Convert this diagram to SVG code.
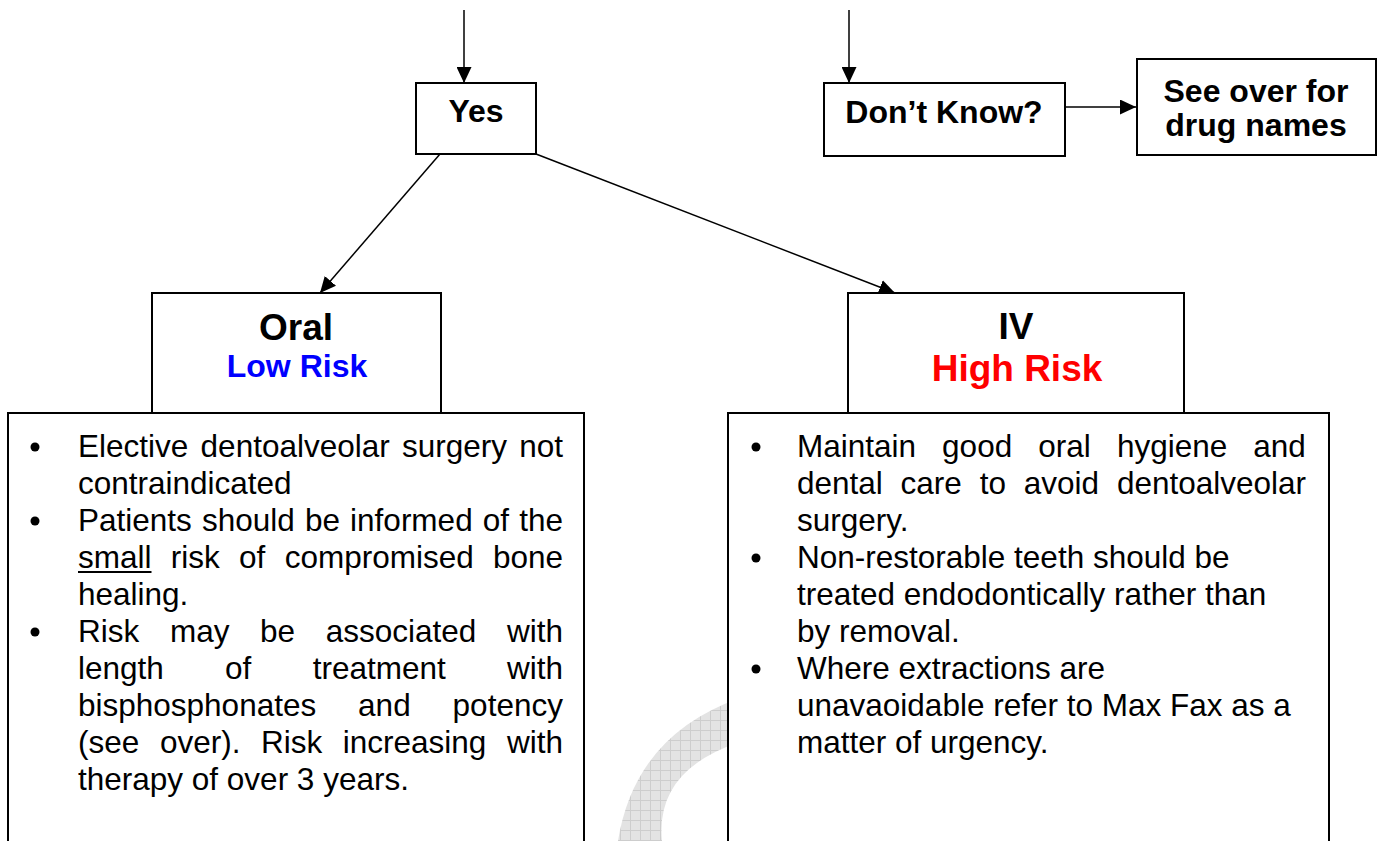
<svg xmlns="http://www.w3.org/2000/svg" width="1381" height="841" viewBox="0 0 1381 841">
<style>
.box{fill:#fff;stroke:#000;stroke-width:2}
.hd{font-family:"Liberation Sans",Arial,sans-serif;font-weight:bold;text-anchor:middle;fill:#000}
.bd{font-family:"Liberation Sans",Arial,sans-serif;font-size:31.5px;fill:#000}
.con{fill:none;stroke:#000;stroke-width:1.5;marker-end:url(#ah)}
</style>
<defs>
<marker id="ah" viewBox="0 0 16 15" refX="16" refY="7.5" markerWidth="16" markerHeight="15" markerUnits="userSpaceOnUse" orient="auto">
<path d="M0,0L16,7.5L0,15Z" fill="#000"/>
</marker>
<pattern id="wm" width="10" height="10" patternUnits="userSpaceOnUse">
<rect width="10" height="10" fill="#e3e3e3"/>
<path d="M0,0.5H10M0.5,0V10" stroke="#cdcdcd" stroke-width="1"/>
</pattern>
</defs>
<rect width="1381" height="841" fill="#fff"/>

<path id="watermark" d="M618,841 Q635,735 740,698 L740,742 Q655,770 662,841 Z" fill="url(#wm)"/>

<g id="connectors">
<line class="con" x1="464" y1="10" x2="464" y2="83"/>
<line class="con" x1="849" y1="10" x2="849" y2="83"/>
<line class="con" x1="1065" y1="107" x2="1136" y2="107"/>
<line class="con" x1="440" y1="154" x2="320" y2="293"/>
<line class="con" x1="536" y1="154" x2="895" y2="293"/>
</g>

<g id="yes">
<rect class="box" x="416" y="83" width="120" height="71"/>
<text class="hd" x="476" y="122" font-size="32">Yes</text>
</g>

<g id="dontknow">
<rect class="box" x="824" y="83" width="241" height="73"/>
<text class="hd" x="944" y="123" font-size="32">Don’t Know?</text>
</g>

<g id="seeover">
<rect class="box" x="1137" y="59" width="239" height="96"/>
<text class="hd" x="1256" y="102" font-size="32">See over for</text>
<text class="hd" x="1256" y="136" font-size="32">drug names</text>
</g>

<g id="oral">
<rect class="box" x="152" y="293" width="289" height="120"/>
<text class="hd" x="296" y="340" font-size="37">Oral</text>
<text class="hd" x="297" y="377" font-size="32" fill="#0000ff" style="fill:#0000ff">Low Risk</text>
</g>

<g id="iv">
<rect class="box" x="848" y="293" width="336" height="120"/>
<text class="hd" x="1016" y="339" font-size="37">IV</text>
<text class="hd" x="1017" y="381" font-size="37" style="fill:#ff0000">High Risk</text>
</g>

<g id="oral-advice">
<rect class="box" x="8" y="413" width="576" height="440"/>
<circle cx="35" cy="447" r="4.5"/>
<circle cx="35" cy="521" r="4.5"/>
<circle cx="35" cy="632" r="4.5"/>
<text class="bd" y="457"><tspan x="78">Elective</tspan><tspan x="200.6">dentoalveolar</tspan><tspan x="401.9">surgery</tspan><tspan x="519.2">not</tspan></text>
<text class="bd" x="78" y="494">contraindicated</text>
<text class="bd" y="531"><tspan x="78">Patients</tspan><tspan x="202">should</tspan><tspan x="304.9">be</tspan><tspan x="350.1">informed</tspan><tspan x="482.8">of</tspan><tspan x="519.2">the</tspan></text>
<text class="bd" y="568"><tspan x="78">small</tspan><tspan x="170.8">risk</tspan><tspan x="239.1">of</tspan><tspan x="284.7">compromised</tspan><tspan x="493">bone</tspan></text>
<line x1="78" y1="572" x2="151.5" y2="572" stroke="#000" stroke-width="2"/>
<text class="bd" x="78" y="605">healing.</text>
<text class="bd" y="642"><tspan x="78">Risk</tspan><tspan x="169.9">may</tspan><tspan x="260.1">be</tspan><tspan x="325.8">associated</tspan><tspan x="507.1">with</tspan></text>
<text class="bd" y="679"><tspan x="78">length</tspan><tspan x="225.1">of</tspan><tspan x="312.7">treatment</tspan><tspan x="507.1">with</tspan></text>
<text class="bd" y="716"><tspan x="78">bisphosphonates</tspan><tspan x="358.1">and</tspan><tspan x="452.6">potency</tspan></text>
<text class="bd" y="753"><tspan x="78">(see</tspan><tspan x="159.9">over).</tspan><tspan x="261">Risk</tspan><tspan x="342.8">increasing</tspan><tspan x="506.9">with</tspan></text>
<text class="bd" x="78" y="790">therapy of over 3 years.</text>
</g>

<g id="iv-advice">
<rect class="box" x="728" y="413" width="601" height="440"/>
<circle cx="756" cy="447" r="4.5"/>
<circle cx="756" cy="558" r="4.5"/>
<circle cx="756" cy="669" r="4.5"/>
<text class="bd" y="457"><tspan x="797">Maintain</tspan><tspan x="942.1">good</tspan><tspan x="1038.3">oral</tspan><tspan x="1116.9">hygiene</tspan><tspan x="1253.3">and</tspan></text>
<text class="bd" y="494"><tspan x="797">dental</tspan><tspan x="900.6">care</tspan><tspan x="979.7">to</tspan><tspan x="1023.8">avoid</tspan><tspan x="1116.9">dentoalveolar</tspan></text>
<text class="bd" x="797" y="531">surgery.</text>
<text class="bd" x="797" y="568">Non-restorable teeth should be</text>
<text class="bd" x="797" y="605">treated endodontically rather than</text>
<text class="bd" x="797" y="642">by removal.</text>
<text class="bd" x="797" y="679">Where extractions are</text>
<text class="bd" x="797" y="716">unavaoidable refer to Max Fax as a</text>
<text class="bd" x="797" y="753">matter of urgency.</text>
</g>
</svg>
